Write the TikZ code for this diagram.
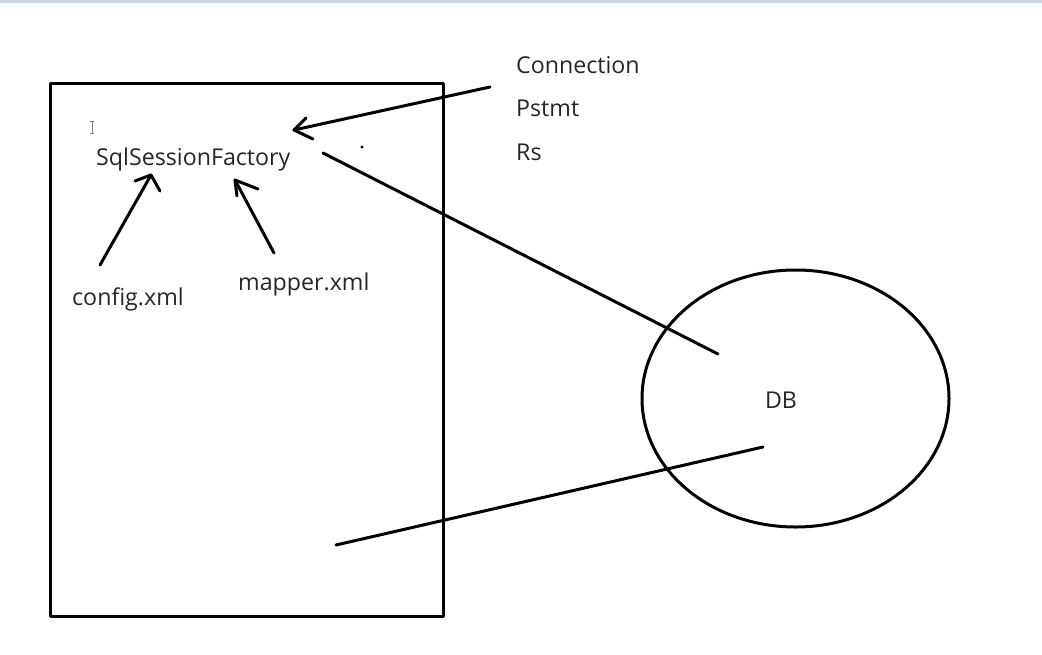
\documentclass[tikz,border=0pt]{standalone}
\usepackage{fontspec}
\setmainfont{Open Sans}
\usetikzlibrary{shapes.geometric}
\begin{document}
\begin{tikzpicture}[x=1pt,y=-1pt,
  ink/.style={line width=3pt,black,line cap=round,line join=round},
  lbl/.style={inner sep=0pt,anchor=base west,font=\fontsize{23.2}{28}\selectfont,text=black!85}]
\definecolor{bandc}{HTML}{C9D3E6}
\useasboundingbox (0,0) rectangle (1042,654);
\fill[white] (0,0) rectangle (1042,654);
\fill[bandc] (0,0) rectangle (1042,3);
% app box
\node[draw,ink,minimum width=393pt,minimum height=533pt,inner sep=0pt] (box) at (246.5,349.5) {};
% DB ellipse
\node[draw,ink,ellipse,minimum width=307pt,minimum height=257pt,inner sep=0pt] (db) at (795.5,398.5) {};
\node[inner sep=0pt,font=\fontsize{23.2}{28}\selectfont,text=black!85] (dbl) at (781,400) {DB};
% labels
\node[lbl] (ssf) at (96,165) {SqlSessionFactory};
\node[lbl] (conn) at (516,73) {Connection};
\node[lbl] (pst) at (516,116) {Pstmt};
\node[lbl] (rs) at (516,160) {Rs};
\node[lbl] (cfg) at (72,305) {config.xml};
\node[lbl] (map) at (238,290) {mapper.xml};
% coordinates for hand-drawn strokes
\coordinate (c1s) at (490,87);  \coordinate (c1t) at (294,130);
\coordinate (c1a) at (306,118); \coordinate (c1b) at (313,139);
\coordinate (c2s) at (100,265); \coordinate (c2t) at (151,175);
\coordinate (c2a) at (135,181); \coordinate (c2b) at (160,191);
\coordinate (c3s) at (274,253); \coordinate (c3t) at (235,180);
\coordinate (c3a) at (258,189); \coordinate (c3b) at (237,196);
\coordinate (l1s) at (323,153); \coordinate (l1e) at (718,354);
\coordinate (l2s) at (336,545); \coordinate (l2e) at (763,447);
% arrows
\draw[ink] (c1s) -- (c1t);
\draw[ink] (c1a) -- (c1t) -- (c1b);
\draw[ink] (c2s) -- (c2t);
\draw[ink] (c2a) -- (c2t) -- (c2b);
\draw[ink] (c3s) -- (c3t);
\draw[ink] (c3a) -- (c3t) -- (c3b);
% lines to DB
\draw[ink] (l1s) -- (l1e);
\draw[ink] (l2s) -- (l2e);
% stray dot
\fill[black] (362,147) circle (1.6pt);
% text cursor (I-beam)
\draw[gray,line width=1pt] (90,121) -- (94,121) (92,121) -- (92,133) (90,133) -- (94,133);
\end{tikzpicture}
\end{document}
